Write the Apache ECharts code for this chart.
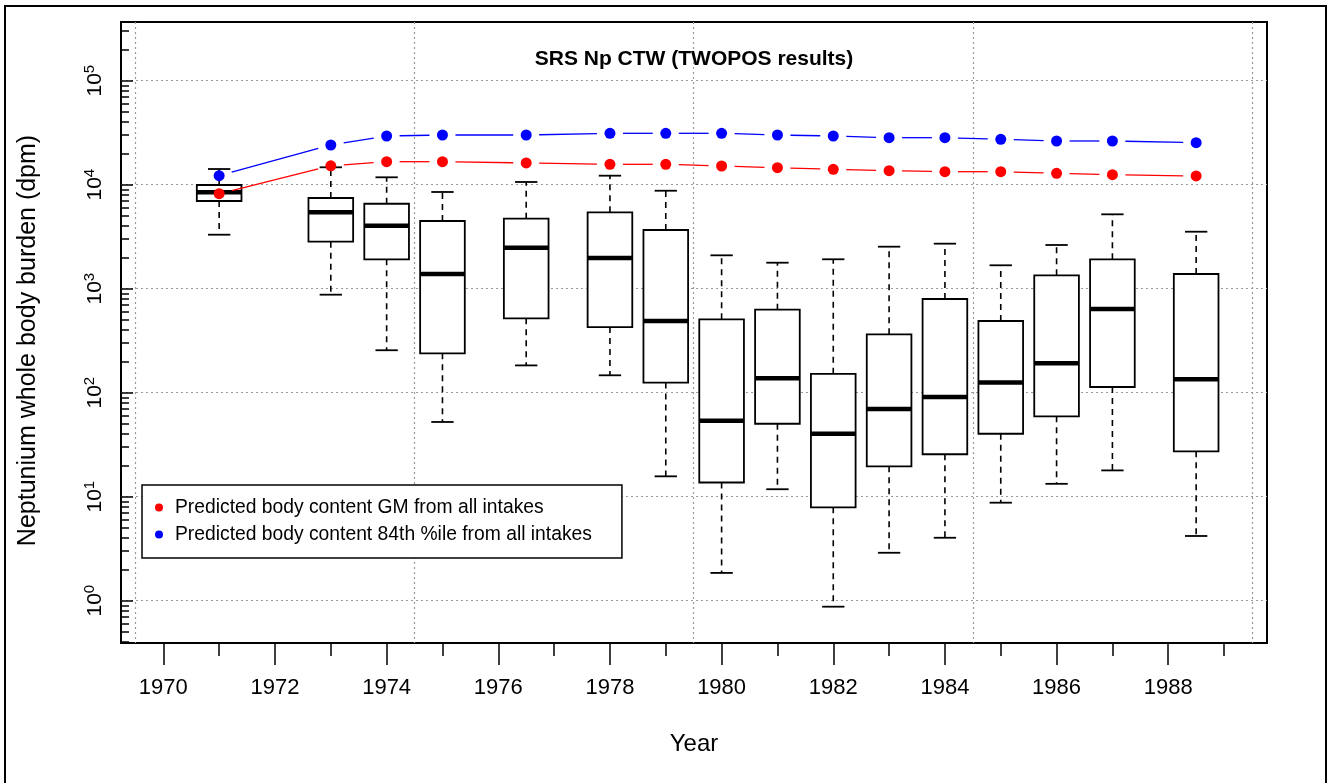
<!DOCTYPE html>
<html><head><meta charset="utf-8">
<script src="https://cdn.jsdelivr.net/npm/echarts@6/dist/echarts.min.js"></script>
<style>html,body{margin:0;padding:0;background:#fff}#c{width:1328px;height:783px}</style>
</head><body><div id="c"></div>
<script>
// ---- data (values in dpm) ----
const years = [1971, 1973, 1974, 1975, 1976.5, 1978, 1979, 1980, 1981, 1982, 1983, 1984, 1985, 1986, 1987, 1988.5];
const boxLow    = [3305, 876, 256, 52.3, 183, 147, 15.7, 1.85, 11.8, 0.876, 2.89, 4.03, 8.76, 13.3, 17.9, 4.19];
const boxQ1     = [6970, 2830, 1918, 239, 519, 428, 125, 13.7, 50.3, 7.91, 19.6, 25.6, 40.3, 59.3, 113.5, 27.3];
const boxMedian = [8450, 5430, 4035, 1385, 2478, 1973, 489, 53.8, 138, 40.3, 69.7, 90.9, 125, 192, 638, 134.5];
const boxQ3     = [9930, 7450, 6560, 4477, 4710, 5430, 3667, 508, 628, 152, 364, 796, 489, 1345, 1918, 1385];
const boxHigh   = [14150, 14700, 11780, 8510, 10620, 12210, 8750, 2094, 1778, 1918, 2535, 2710, 1679, 2632, 5190, 3532];
const gmPredicted  = [8190, 15200, 16640, 16640, 16180, 15710, 15710, 15130, 14570, 14060, 13640, 13330, 13330, 12870, 12480, 12130];
const p84Predicted = [12210, 24090, 29400, 30050, 30050, 31200, 31200, 31200, 30050, 29400, 28310, 28310, 27330, 26320, 26320, 25340];

const xTickYears  = [1970, 1972, 1974, 1976, 1978, 1980, 1982, 1984, 1986, 1988];
const xMinorYears = [1971, 1973, 1975, 1977, 1979, 1981, 1983, 1985, 1987, 1989];
const xGridYears  = [1969.5, 1974.5, 1979.5, 1984.5, 1989.5];
const yTickExponents = [0, 1, 2, 3, 4, 5];
const yMinorMultipliers = [2, 3, 4, 5, 6, 7, 8, 9];

const titleText = 'SRS Np CTW (TWOPOS results)';
const xName = 'Year';
const yName = 'Neptunium whole body burden (dpm)';
const nameGM = 'Predicted body content GM from all intakes';
const name84 = 'Predicted body content 84th %ile from all intakes';

// ---- helpers ----
const L = v => Math.log10(v);
const xMin = 1969.242, xMax = 1989.769;
const yMin = -0.4067, yMax = 5.5644;
const FONT = '"Liberation Sans", Arial, sans-serif';
const BOX_W = 0.8, CAP_W = 0.4, GAP = 13;

const yMinor = [];
for (let e = -1; e <= 5; e++) yMinorMultipliers.forEach(m => {
  const v = L(m) + e; if (v > yMin && v < yMax) yMinor.push(v);
});

const boxData = years.map((y, i) => [y, L(boxLow[i]), L(boxQ1[i]), L(boxMedian[i]), L(boxQ3[i]), L(boxHigh[i])]);

function boxRender(params, api) {
  const x = api.value(0);
  const pLow = api.coord([x, api.value(1)]);
  const pQ1 = api.coord([x, api.value(2)]);
  const pMed = api.coord([x, api.value(3)]);
  const pQ3 = api.coord([x, api.value(4)]);
  const pHigh = api.coord([x, api.value(5)]);
  const hw = api.size([BOX_W, 0])[0] / 2;
  const cw = api.size([CAP_W, 0])[0] / 2;
  const cx = pMed[0];
  const dashed = {stroke: '#000', lineWidth: 1.6, lineDash: [6, 5], fill: null};
  const solid = {stroke: '#000', lineWidth: 1.8, fill: null};
  return {type: 'group', children: [
    {type: 'line', shape: {x1: cx, y1: pQ3[1], x2: cx, y2: pHigh[1]}, style: dashed},
    {type: 'line', shape: {x1: cx, y1: pQ1[1], x2: cx, y2: pLow[1]}, style: dashed},
    {type: 'line', shape: {x1: cx - cw, y1: pHigh[1], x2: cx + cw, y2: pHigh[1]}, style: solid},
    {type: 'line', shape: {x1: cx - cw, y1: pLow[1], x2: cx + cw, y2: pLow[1]}, style: solid},
    {type: 'rect', shape: {x: cx - hw, y: pQ3[1], width: 2 * hw, height: pQ1[1] - pQ3[1]},
      style: {fill: '#fff', stroke: '#000', lineWidth: 1.8}},
    {type: 'line', shape: {x1: cx - hw, y1: pMed[1], x2: cx + hw, y2: pMed[1]}, style: {stroke: '#000', lineWidth: 4.5}}
  ]};
}

function segSeries(vals, color) {
  const data = [];
  for (let i = 0; i < years.length - 1; i++) data.push([years[i], L(vals[i]), years[i + 1], L(vals[i + 1])]);
  return {
    type: 'custom', silent: true, z: 3, data, encode: {x: [0, 2], y: [1, 3]},
    renderItem: (p, api) => {
      const a = api.coord([api.value(0), api.value(1)]);
      const b = api.coord([api.value(2), api.value(3)]);
      const dx = b[0] - a[0], dy = b[1] - a[1], len = Math.hypot(dx, dy);
      if (len <= 2 * GAP) return null;
      const ux = dx / len, uy = dy / len;
      return {type: 'line', shape: {x1: a[0] + ux * GAP, y1: a[1] + uy * GAP, x2: b[0] - ux * GAP, y2: b[1] - uy * GAP},
        style: {stroke: color, lineWidth: 1.3}};
    }
  };
}

const chart = echarts.init(document.getElementById('c'));
const tickStyle = {color: '#000', width: 1.5};
chart.setOption({
  animation: false,
  backgroundColor: '#fff',
  textStyle: {fontFamily: FONT},
  title: {text: titleText, left: 694, textAlign: 'center', top: 49, padding: 0,
    textStyle: {fontSize: 21, fontWeight: 'bold', color: '#000', fontFamily: FONT}},
  grid: {left: 121, top: 22, right: 61, bottom: 140, show: true, borderColor: '#000', borderWidth: 2, backgroundColor: 'transparent'},
  legend: {data: [nameGM, name84], orient: 'vertical', left: 142, top: 485, backgroundColor: '#fff',
    borderColor: '#000', borderWidth: 1.5, borderRadius: 0, padding: [13, 30, 14, 13], itemGap: 8,
    itemWidth: 22, itemHeight: 8, icon: 'circle', selectedMode: false, z: 10,
    textStyle: {fontSize: 19.3, color: '#000', fontFamily: FONT, lineHeight: 19}},
  graphic: [{type: 'rect', shape: {x: 5, y: 6, width: 1321, height: 800}, style: {fill: null, stroke: '#000', lineWidth: 2}, z: 100}],
  xAxis: [
    {type: 'value', min: xMin, max: xMax, position: 'bottom', axisLine: {show: false, onZero: false}, splitLine: {show: false},
      axisTick: {show: true, customValues: xTickYears, length: 22, lineStyle: tickStyle},
      axisLabel: {customValues: xTickYears, fontSize: 22, color: '#000', margin: 34, fontFamily: FONT, formatter: v => String(v)},
      name: xName, nameLocation: 'middle', nameGap: 89, nameTextStyle: {fontSize: 24, color: '#000', fontFamily: FONT}},
    {type: 'value', min: xMin, max: xMax, position: 'bottom', axisLine: {show: false, onZero: false}, splitLine: {show: false},
      axisLabel: {show: false}, axisTick: {show: true, customValues: xMinorYears, length: 13, lineStyle: tickStyle}},
    {type: 'value', min: xMin, max: xMax, position: 'bottom', axisLine: {show: false, onZero: false}, axisLabel: {show: false},
      axisTick: {show: false, customValues: xGridYears},
      splitLine: {show: true, lineStyle: {color: '#999', width: 1.2, type: [2, 3]}}}
  ],
  yAxis: [
    {type: 'value', min: yMin, max: yMax, position: 'left', axisLine: {show: false, onZero: false},
      axisTick: {show: true, inside: true, length: 12, customValues: yTickExponents, lineStyle: tickStyle},
      axisLabel: {customValues: yTickExponents, rotate: 90, margin: 12, color: '#000',
        formatter: v => '{b|10}{s|' + Math.round(v) + '}',
        rich: {b: {fontSize: 21, fontFamily: FONT, color: '#000'}, s: {fontSize: 15, fontFamily: FONT, color: '#000', padding: [0, 0, 12, 0]}}},
      splitLine: {show: true, lineStyle: {color: '#999', width: 1.2, type: [2, 3]}},
      name: yName, nameLocation: 'middle', nameGap: 80, nameTextStyle: {fontSize: 25, color: '#000', fontFamily: FONT, padding: [0, 16, 0, 0]}},
    {type: 'value', min: yMin, max: yMax, position: 'left', axisLine: {show: false, onZero: false}, splitLine: {show: false}, axisLabel: {show: false},
      axisTick: {show: true, inside: true, length: 8, customValues: yMinor, lineStyle: tickStyle}}
  ],
  series: [
    {type: 'custom', name: 'boxes', z: 2, data: boxData, encode: {x: 0, y: [1, 2, 3, 4, 5]}, renderItem: boxRender, silent: true},
    segSeries(gmPredicted, '#ff0000'),
    segSeries(p84Predicted, '#0000ff'),
    {type: 'scatter', name: nameGM, z: 4, symbol: 'circle', symbolSize: 11, itemStyle: {color: '#ff0000', opacity: 1},
      data: years.map((y, i) => [y, L(gmPredicted[i])])},
    {type: 'scatter', name: name84, z: 4, symbol: 'circle', symbolSize: 11, itemStyle: {color: '#0000ff', opacity: 1},
      data: years.map((y, i) => [y, L(p84Predicted[i])])}
  ]
});
</script>
</body></html>
